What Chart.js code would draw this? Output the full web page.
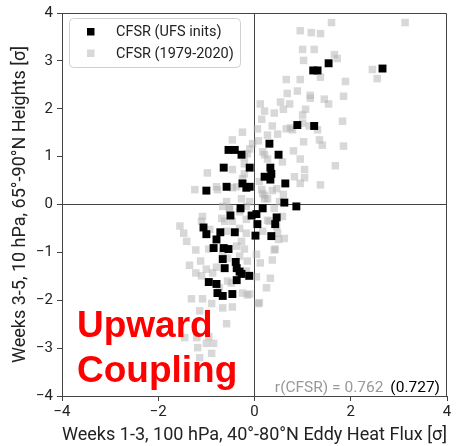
<!DOCTYPE html>
<html>
<head>
<meta charset="utf-8">
<script src="https://cdn.jsdelivr.net/npm/chart.js@4/dist/chart.umd.min.js"></script>
<style>
  html, body { margin: 0; padding: 0; background: #fff; }
  #wrap { width: 457px; height: 446px; position: relative; }
</style>
</head>
<body>
<div id="wrap"><canvas id="c"></canvas></div>
<script>
// ---- Data ----
const seriesLabels = ['CFSR (UFS inits)', 'CFSR (1979-2020)'];
const xTicks = [-4, -2, 0, 2, 4];
const yTicks = [-4, -3, -2, -1, 0, 1, 2, 3, 4];

const ufsX = [2.66, 1.54, 1.22, 1.31, 0.89, 1.24, 0.31, 0.50, 0.33, 0.35, 0.21, 0.33, 0.64, -0.10, -0.10,
  0.62, 0.87, 0.17, 0.04, -0.06, 0.46, 0.43, 0.06, 0.02, 0.35, -0.11,
  -1.00, -0.29, -0.50, -1.06, -0.71, -1.00, -0.41, -0.79, -0.85, -0.64, -0.54, -0.66, -0.39, -0.62, -0.37,
  -0.27, -0.31, -0.37, -0.95, -0.79, -0.77, -0.66, -0.46, -0.54, -0.41, -0.27, -0.64, -0.58, -0.25, -0.17];
const ufsY = [2.84, 2.95, 2.80, 2.80, 1.66, 1.64, 1.27, 1.04, 0.77, 0.64, 0.58, 0.52, 0.44, 0.77, 0.37,
  0.04, -0.04, -0.08, -0.20, -0.23, -0.27, -0.41, -0.41, -0.65, -0.66, -1.49,
  0.29, -0.08, -0.23, -0.48, -0.58, -0.62, -0.58, -0.73, -0.91, -0.91, -0.93, -1.14, -1.20, -1.33, -1.33,
  -1.45, -1.40, -1.58, -1.62, -1.66, -1.85, -1.91, -1.87, 1.14, 1.14, 1.04, 0.77, 0.37, 0.44, 0.35];

const climX = [1.60, 3.13, 0.95, 1.18, 1.37, 1.00, 1.24, 1.02, 1.66, 1.72, 2.45, 2.55, 1.37, 1.89, 0.66, 0.95,
  0.68, 0.89, 1.16, 1.16, 1.45, 1.85, 0.54, 0.12, 0.73, 1.54,
  0.21, 0.41, 0.60, 1.06, 1.00, 0.15, 1.83, 0.06, 0.37, 0.66, 0.75, 0.79, 1.00, 1.14, 1.31, 0.48, 0.27,
  0.08, -0.04, 1.02, 1.35, 1.41, 1.85, 0.81, 0.21, 0.27, 0.95, 0.58, 1.68, 0.83, 1.04, 1.04, 0.95, 1.37,
  0.10, 0.17, 0.37, 0.46, 0.27,
  -0.25, -0.46, -0.10, -0.15, -0.21, -0.21, -0.98, -0.46, -0.21, -0.79, -1.24, -0.37, 0.15, -0.27, -0.58,
  -0.66, -0.52, -0.17, -0.10, 0.21, 0.52, 0.17, -0.77, -0.46, -0.25,
  0.60, 0.21, 0.58, 0.27, 0.17, 0.48, 0.62, 0.50, 0.41, 0.04, 0.12, 0.37, 0.04, 0.33, 0.08, -0.10,
  -1.55, -1.47, -1.41, -1.22, -1.12, -1.35, -1.22, -1.10, -1.00, -0.87, -0.79, -1.31, -1.08, -0.89, -0.66,
  -0.46, -1.14, -0.15, 0.10, -0.25, -0.56, -0.17, -0.15, 0.43, -1.08, -1.10, -0.93, -0.58, -0.62, -0.46,
  -0.31, -0.17, -0.27, -0.37, -0.66, -0.56, -0.31, -0.21, -0.95, -0.17, -0.31, -0.52, -0.68, 0.41, 0.31,
  0.46, 0.25, -0.48, -0.73,
  -0.58, -1.00, -0.85, -0.89, -1.18, -1.45, -1.20, -0.95, -1.14];
const climY = [3.80, 3.80, 3.63, 3.59, 3.57, 3.24, 3.24, 3.01, 3.13, 3.05, 2.82, 2.63, 2.66, 2.57, 2.61, 2.61,
  2.32, 2.37, 2.28, 2.22, 2.20, 2.26, 2.14, 2.10, 2.10, 2.10,
  1.95, 1.91, 1.99, 1.99, 1.87, 1.78, 1.74, 1.58, 1.64, 1.58, 1.60, 1.56, 1.70, 1.64, 1.56, 1.47, 1.45,
  1.33, 1.27, 1.31, 1.35, 1.24, 1.22, 1.12, 1.04, 0.95, 0.95, 0.89, 0.81, 0.58, 0.73, 0.56, 0.44, 0.41,
  0.48, 0.23, 0.29, 0.33, 0.12,
  1.51, 1.35, 1.16, 1.06, 1.00, 0.85, 0.66, 0.73, 0.64, 0.37, 0.31, 0.37, 0.31, 0.12, 0.06,
  -0.04, -0.08, -0.04, 0.06, 0.12, 0.06, 1.10, 0.31, 0.35, 0.54,
  0.21, 0.19, -0.25, -0.33, -0.56, -0.60, -0.71, -0.73, -0.95, -1.04, -1.22, -1.16, -1.51, -1.54, -2.07, -1.87,
  -0.45, -0.60, -0.77, -0.95, -1.18, -1.27, -1.43, -1.49, -1.35, -1.43, -1.31, -1.97, -1.97, -2.07, -2.16,
  -2.14, -2.22, -1.89, -2.05, -1.85, -1.60, -1.39, -1.18, -0.93, -0.25, -0.35, -0.52, -0.56, -0.35, -0.35,
  -0.50, -0.60, -0.77, -0.87, -0.98, -1.12, -1.08, -0.93, -0.93, -0.31, -0.15, -0.10, -0.29, -0.08, -0.35,
  -0.46, -1.74, -1.64, -1.74,
  -2.49, -2.90, -2.90, -3.11, -2.99, -2.78, -2.78, -2.76, -3.20];

const corrClim = 'r(CFSR) = 0.762';
const corrUfs = '(0.727)';
const bigLabel = ['Upward', 'Coupling'];

// ---- Build datasets ----
const toPts = (xs, ys) => xs.map((x, i) => ({ x: x, y: ys[i] }));
const AX = '#444';
const fmt = v => (v < 0 ? '\u2212' + Math.abs(v) : String(v));

const framePlugin = {
  id: 'frame',
  afterDraw(chart) {
    const { ctx, chartArea: a } = chart;
    ctx.save();
    ctx.strokeStyle = AX;
    ctx.lineWidth = 1;
    ctx.beginPath();
    ctx.moveTo(a.left, a.top + 0.5);
    ctx.lineTo(a.right - 0.5, a.top + 0.5);
    ctx.lineTo(a.right - 0.5, a.bottom);
    ctx.stroke();

    // Legend box
    const lx = 69.5, ly = 18.5, lw = 171, lh = 49, r = 4;
    ctx.fillStyle = 'rgba(255,255,255,0.85)';
    ctx.strokeStyle = '#d0d0d0';
    ctx.beginPath();
    ctx.moveTo(lx + r, ly);
    ctx.arcTo(lx + lw, ly, lx + lw, ly + lh, r);
    ctx.arcTo(lx + lw, ly + lh, lx, ly + lh, r);
    ctx.arcTo(lx, ly + lh, lx, ly, r);
    ctx.arcTo(lx, ly, lx + lw, ly, r);
    ctx.closePath();
    ctx.fill();
    ctx.stroke();
    const ds = chart.data.datasets;
    const rows = [31.5, 53];
    ctx.font = '14.5px Roboto';
    ctx.textBaseline = 'middle';
    ctx.textAlign = 'left';
    ds.forEach((d, i) => {
      ctx.fillStyle = d.backgroundColor;
      ctx.fillRect(87, rows[i] - 3.5, 7.5, 7.5);
      ctx.fillStyle = '#222';
      ctx.fillText(d.label, 116, rows[i] + 1);
    });

    // Annotations
    ctx.font = 'bold 37px "Liberation Sans", Arial, sans-serif';
    ctx.fillStyle = '#ff0000';
    ctx.textBaseline = 'alphabetic';
    ctx.fillText(bigLabel[0], 77, 337);
    ctx.fillText(bigLabel[1], 77, 382);

    ctx.font = '15.5px Roboto';
    ctx.textBaseline = 'middle';
    ctx.textAlign = 'right';
    ctx.fillStyle = '#000';
    ctx.fillText(corrUfs, 440, 388);
    const w = ctx.measureText(corrUfs).width;
    ctx.fillStyle = '#999';
    ctx.fillText(corrClim, 440 - w - 7, 388);
    ctx.restore();
  }
};

const gridColor = ctx => (ctx.tick && ctx.tick.value === 0 ? AX : 'rgba(0,0,0,0)');

new Chart(document.getElementById('c'), {
  type: 'scatter',
  data: {
    datasets: [
      { label: seriesLabels[0], data: toPts(ufsX, ufsY), backgroundColor: '#000000',
        pointStyle: 'rect', pointRadius: 5.6, pointBorderWidth: 0, borderWidth: 0, pointHoverRadius: 5.6 },
      { label: seriesLabels[1], data: toPts(climX, climY), backgroundColor: 'rgba(178,178,178,0.5)',
        pointStyle: 'rect', pointRadius: 5.3, pointBorderWidth: 0, borderWidth: 0, pointHoverRadius: 5.3 }
    ]
  },
  options: {
    responsive: true,
    maintainAspectRatio: false,
    animation: false,
    devicePixelRatio: 1,
    layout: { padding: { top: 10, right: 10, left: 0, bottom: 0 } },
    plugins: { legend: { display: false }, tooltip: { enabled: false } },
    scales: {
      x: {
        type: 'linear', min: -4, max: 4,
        afterBuildTicks: s => { s.ticks = xTicks.map(v => ({ value: v })); },
        afterFit: s => { s.height = 50; },
        ticks: { callback: fmt, color: '#222', font: { family: 'Roboto', size: 15 }, padding: 2, maxRotation: 0 },
        grid: { color: gridColor, lineWidth: 1, tickColor: AX, tickLength: 5 },
        border: { display: true, color: AX, width: 1 },
        title: { display: true, text: 'Weeks 1-3, 100 hPa, 40°-80°N Eddy Heat Flux [σ]', color: '#222',
          font: { family: 'Roboto', size: 18.5 }, padding: { top: 0, bottom: 0 } }
      },
      y: {
        type: 'linear', min: -4, max: 4,
        afterBuildTicks: s => { s.ticks = yTicks.map(v => ({ value: v })); },
        afterFit: s => { s.width = 62; },
        ticks: { callback: fmt, color: '#222', font: { family: 'Roboto', size: 15 }, padding: 4 },
        grid: { color: gridColor, lineWidth: 1, tickColor: AX, tickLength: 5 },
        border: { display: true, color: AX, width: 1 },
        title: { display: true, text: 'Weeks 3-5, 10 hPa, 65°-90°N Heights [σ]', color: '#222',
          font: { family: 'Roboto', size: 18 }, padding: { top: 10, bottom: 0 } }
      }
    }
  },
  plugins: [framePlugin]
});
</script>
</body>
</html>
